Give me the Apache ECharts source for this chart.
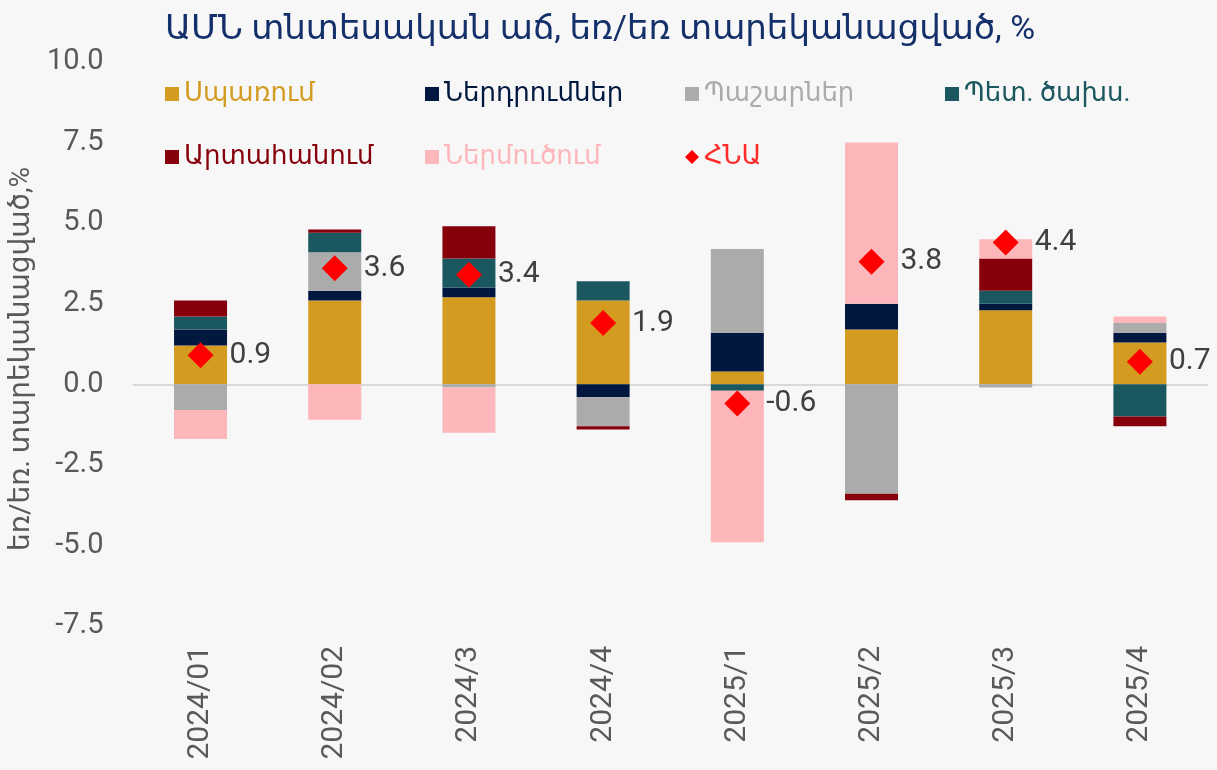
<!DOCTYPE html>
<html>
<head>
<meta charset="utf-8">
<script src="https://cdn.jsdelivr.net/npm/echarts@6/dist/echarts.min.js"></script>
<style>
  html, body { margin: 0; padding: 0; background: #f7f7f7; }
  #main { width: 1217px; height: 770px; }
</style>
</head>
<body>
<div id="main"></div>
<script>
// եռամսյակներ
var quarters = ["2024/01", "2024/02", "2024/3", "2024/4", "2025/1", "2025/2", "2025/3", "2025/4"];

// բաղադրիչների ներդրումը աճում, տ.կ.
var consumption = [1.2, 2.6, 2.7, 2.6, 0.4, 1.7, 2.3, 1.3];
var investment  = [0.5, 0.3, 0.3, -0.4, 1.2, 0.8, 0.2, 0.3];
var inventories = [-0.8, 1.2, -0.1, -0.9, 2.6, -3.4, -0.1, 0.3];
var government  = [0.4, 0.6, 0.9, 0.6, -0.2, 0, 0.4, -1.0];
var exportsData = [0.5, 0.1, 1.0, -0.1, 0, -0.2, 1.0, -0.3];
var importsData = [-0.9, -1.1, -1.4, 0, -4.7, 5.0, 0.6, 0.2];
var gdp         = [0.9, 3.6, 3.4, 1.9, -0.6, 3.8, 4.4, 0.7];

var names = ["Սպառում", "Ներդրումներ", "Պաշարներ", "Պետ. ծախս.", "Արտահանում", "Ներմուծում", "ՀՆԱ"];
var colors = ["#D39B1F", "#001740", "#ABABAB", "#1A575F", "#86000C", "#FDB7BA", "#FF0000"];
var legendTextColors = ["#D39B1F", "#001740", "#ABABAB", "#1A575F", "#86000C", "#FDB7BA", "#FF2A2A"];

var chart = echarts.init(document.getElementById("main"));

function barSeries(i, data) {
  return {
    name: names[i],
    type: "bar",
    stack: "total",
    barWidth: 53,
    itemStyle: { color: colors[i] },
    data: data
  };
}

// legend: each item placed on a 260px column grid, two rows
var legends = names.map(function (n, i) {
  return {
    left: 160 + (i % 4) * 260,
    top: i < 4 ? 76 : 139,
    itemWidth: 14,
    itemHeight: 14,
    icon: i === 6 ? "diamond" : "rect",
    textStyle: { color: legendTextColors[i], fontSize: 26 },
    data: [n]
  };
});

var option = {
  backgroundColor: "#f7f7f7",
  textStyle: { fontFamily: "Roboto, 'DejaVu Sans', sans-serif" },
  title: {
    text: "ԱՄՆ տնտեսական աճ, եռ/եռ տարեկանացված, %",
    left: 160,
    top: 8,
    textStyle: { color: "#14306A", fontSize: 34, fontWeight: "normal" }
  },
  legend: legends,
  grid: {
    left: 131,
    right: 10,
    top: 62,
    bottom: 144
  },
  xAxis: {
    type: "category",
    data: quarters,
    axisLine: { onZero: true, lineStyle: { color: "#d9d9d9", width: 2 } },
    axisTick: { show: false },
    axisLabel: {
      rotate: 90,
      color: "#595959",
      fontSize: 30,
      margin: 20,
      interval: 0
    }
  },
  yAxis: {
    type: "value",
    min: -7.5,
    max: 10,
    interval: 2.5,
    name: "եռ/եռ. տարեկանացված,%",
    nameLocation: "middle",
    nameRotate: 90,
    nameGap: 94,
    nameTextStyle: { color: "#595959", fontSize: 28, padding: [0, 30, 0, 0] },
    axisLine: { show: false },
    axisTick: { show: false },
    splitLine: { show: false },
    axisLabel: {
      color: "#595959",
      fontSize: 29,
      margin: 30,
      formatter: function (v) { return v.toFixed(1); }
    }
  },
  series: [
    barSeries(0, consumption),
    barSeries(1, investment),
    barSeries(2, inventories),
    barSeries(3, government),
    barSeries(4, exportsData),
    barSeries(5, importsData),
    {
      name: names[6],
      type: "scatter",
      symbol: "diamond",
      symbolSize: 26,
      z: 5,
      itemStyle: { color: colors[6], opacity: 1 },
      label: {
        show: true,
        position: "right",
        distance: 16,
        color: "#404040",
        fontSize: 30,
        formatter: function (p) { return p.value.toFixed(1); }
      },
      data: gdp
    }
  ]
};

chart.setOption(option);
</script>
</body>
</html>
